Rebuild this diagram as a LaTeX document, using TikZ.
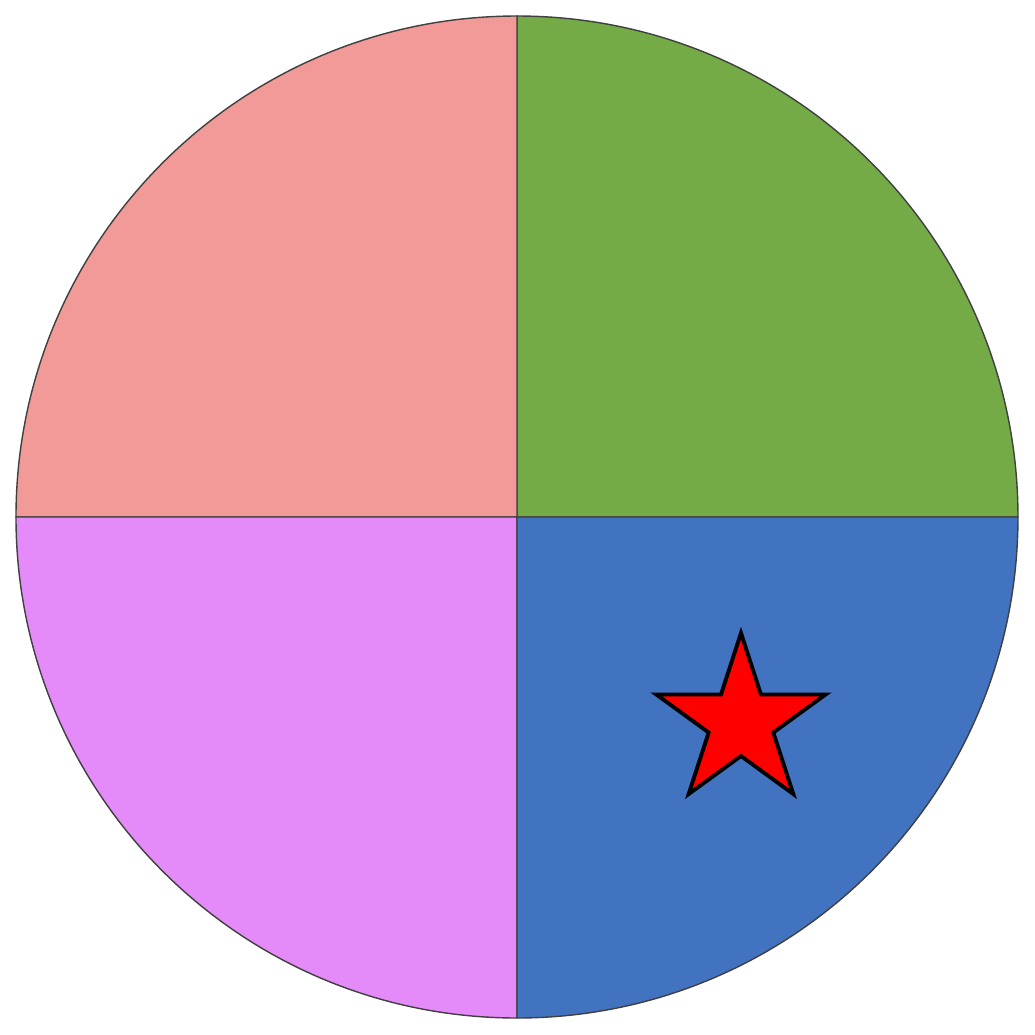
\documentclass[tikz,border=0pt]{standalone}
\usepackage{tikz}
\usetikzlibrary{calc}
\definecolor{pinkq}{HTML}{F19A98}
\definecolor{greenq}{HTML}{74AB46}
\definecolor{blueq}{HTML}{4173C0}
\definecolor{violetq}{HTML}{E48AF9}
\begin{document}
\begin{tikzpicture}[quarter/.style={draw=black!75, line width=0.4pt}, starmark/.style={draw=black, fill=red, line width=1.1pt, line join=miter}]
\useasboundingbox (-5.17,-5.18) rectangle (5.18,5.17);
\coordinate (O) at (0,0);
\def\rad{5.01}
% the four quarters
\filldraw[quarter, fill=greenq] (O) -- (0:\rad) arc (0:90:\rad) -- cycle;
\filldraw[quarter, fill=pinkq] (O) -- (90:\rad) arc (90:180:\rad) -- cycle;
\filldraw[quarter, fill=violetq] (O) -- (180:\rad) arc (180:270:\rad) -- cycle;
\filldraw[quarter, fill=blueq] (O) -- (270:\rad) arc (270:360:\rad) -- cycle;
% star
\coordinate (S) at (2.24,-2.05);
\draw[starmark] ($(S)+(90:0.89)$)
  \foreach \a in {0,...,4} {
    -- ($(S)+(90+72*\a+36:0.34)$) -- ($(S)+(90+72*\a+72:0.89)$)
  } -- cycle;
\end{tikzpicture}
\end{document}
